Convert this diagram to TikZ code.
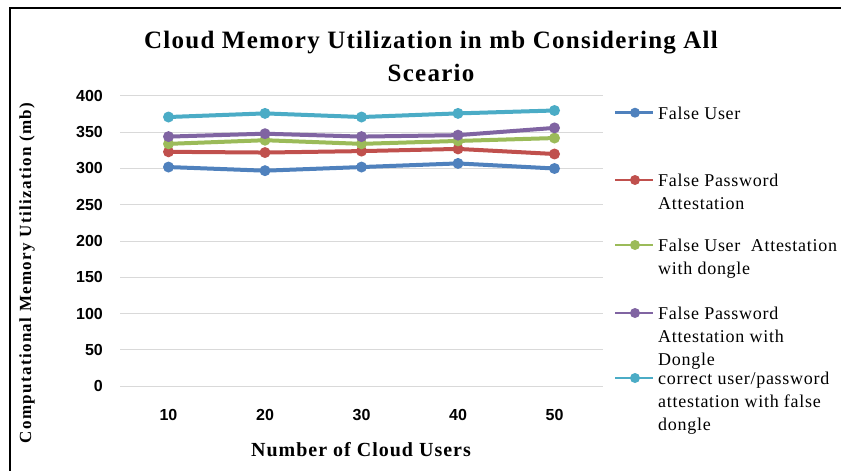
\documentclass[tikz,border=0pt]{standalone}
\usepackage{fontspec}
\setmainfont{Liberation Serif}
\newfontfamily\legfont[LetterSpace=4]{Liberation Serif}
\newfontfamily\titlefont[LetterSpace=5]{Liberation Serif}
\newfontfamily\axfont[LetterSpace=8]{Liberation Serif}
\newfontfamily\xaxfont[LetterSpace=5]{Liberation Serif}
\newfontfamily\tickfont{Liberation Sans}
\definecolor{cblue}{HTML}{4F81BD}
\definecolor{cred}{HTML}{C0504D}
\definecolor{cgreen}{HTML}{9BBB59}
\definecolor{cpurple}{HTML}{8064A2}
\definecolor{ccyan}{HTML}{4BACC6}
\definecolor{cgrid}{HTML}{D9D9D9}
\tikzset{
  gridline/.style={cgrid, line width=1pt},
  series/.style={line width=4pt, line join=round, line cap=round},
  legline/.style={line width=2.5pt},
  ticklbl/.style={font=\tickfont\bfseries\fontsize{16}{18}\selectfont, inner sep=0pt},
  legtxt/.style={font=\legfont\fontsize{18}{23}\selectfont, align=left, anchor=north west, inner sep=0pt},
}
\newcommand{\yv}[1]{386-0.725*#1}
\begin{document}
\begin{tikzpicture}[x=1pt,y=-1pt]
\useasboundingbox (0,0) rectangle (841,471);
\fill[white] (0,0) rectangle (841,471);
\draw[line width=1.2pt] (10,471) -- (10,8) -- (841,8);
% grid and y ticks
\foreach \v in {0,50,...,400} {
  \draw[gridline] (120,{\yv{\v}}) -- (603,{\yv{\v}});
  \node[ticklbl, anchor=east] (yt\v) at (103,{\yv{\v}}) {\v};
}
% x ticks
\foreach \i/\x in {1/168.5,2/265,3/361.5,4/458,5/554.5} {
  \pgfmathtruncatemacro{\lab}{\i*10}
  \node[ticklbl] (xt\i) at (\x,415) {\lab};
}
% data coordinates
\foreach \n/\a/\b/\c/\d/\e in {b/302/297/302/307/300, r/323/322/324/327/320, g/334/339/334/338/342, p/344/348/344/346/356, c/371/376/371/376/380} {
  \coordinate (\n1) at (168.5,{\yv{\a}});
  \coordinate (\n2) at (265,{\yv{\b}});
  \coordinate (\n3) at (361.5,{\yv{\c}});
  \coordinate (\n4) at (458,{\yv{\d}});
  \coordinate (\n5) at (554.5,{\yv{\e}});
}
\foreach \n/\col in {b/cblue, r/cred, g/cgreen, p/cpurple, c/ccyan} {
  \draw[series, \col] (\n1) -- (\n2) -- (\n3) -- (\n4) -- (\n5);
  \foreach \k in {1,...,5} \fill[\col] (\n\k) circle (5.5);
}
% legend
\foreach \n/\col/\yy in {1/cblue/112.7, 2/cred/180, 3/cgreen/245, 4/cpurple/313, 5/ccyan/378} {
  \coordinate (la\n) at (615,\yy);
  \coordinate (lb\n) at (653,\yy);
  \coordinate (lm\n) at (635,\yy);
  \draw[legline, \col] (la\n) -- (lb\n);
  \fill[\col] (lm\n) circle (5);
}
\node[legtxt] (lt1) at (658,106.5) {False User};
\node[legtxt] (lt2) at (658,173.5) {False Password\\Attestation};
\node[legtxt] (lt3) at (658,238.5) {False User \ Attestation\\with dongle};
\node[legtxt] (lt4) at (658,306.5) {False Password\\Attestation with\\Dongle};
\node[legtxt] (lt5) at (658,371.5) {correct user/password\\attestation with false\\dongle};
% titles
\node[font=\titlefont\bfseries\fontsize{25}{33}\selectfont, align=center, anchor=north, inner sep=0pt] (title) at (431,31) {Cloud Memory Utilization in mb Considering All\\Sceario};
\node[font=\axfont\bfseries\fontsize{17}{20}\selectfont, rotate=90, inner sep=0pt] (ytitle) at (27,273) {Computational Memory Utilization (mb)};
\node[font=\xaxfont\bfseries\fontsize{20}{24}\selectfont, inner sep=0pt] (xtitle) at (361,450) {Number of Cloud Users};
\end{tikzpicture}
\end{document}
